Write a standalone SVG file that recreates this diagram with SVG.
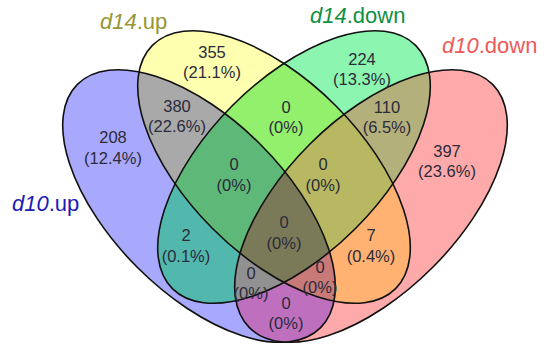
<svg xmlns="http://www.w3.org/2000/svg" xmlns:xlink="http://www.w3.org/1999/xlink" width="550" height="352" viewBox="0 0 550 352">
<style>
.num{font-family:"Liberation Sans",Arial,sans-serif;font-size:16.5px;fill:#2b2b3b;text-anchor:middle}
.ttl{font-family:"Liberation Sans",Arial,sans-serif;font-size:22px}
.out{fill:none;stroke:#111;stroke-width:1.6}
</style>
<defs>
<ellipse id="eA" cx="199" cy="206" rx="172" ry="87" transform="rotate(45 199 206)"/>
<ellipse id="eB" cx="274" cy="167" rx="172" ry="87" transform="rotate(45 274 167)"/>
<ellipse id="eC" cx="294" cy="167" rx="172" ry="87" transform="rotate(-45 294 167)"/>
<ellipse id="eD" cx="371" cy="206" rx="172" ry="87" transform="rotate(-45 371 206)"/>
<clipPath id="cA"><ellipse cx="199" cy="206" rx="172" ry="87" transform="rotate(45 199 206)"/></clipPath>
<clipPath id="cB"><ellipse cx="274" cy="167" rx="172" ry="87" transform="rotate(45 274 167)"/></clipPath>
<clipPath id="cC"><ellipse cx="294" cy="167" rx="172" ry="87" transform="rotate(-45 294 167)"/></clipPath>
<clipPath id="cD"><ellipse cx="371" cy="206" rx="172" ry="87" transform="rotate(-45 371 206)"/></clipPath>
</defs>
<rect width="550" height="352" fill="#fff"/>
<g id="regions">
<use xlink:href="#eA" fill="#a8a8fc"/>
<use xlink:href="#eB" fill="#ffffb0"/>
<use xlink:href="#eC" fill="#8cf5b0"/>
<use xlink:href="#eD" fill="#ffaaaa"/>
<use xlink:href="#eA" fill="#a9a9a9" clip-path="url(#cB)"/>
<use xlink:href="#eA" fill="#52b8ae" clip-path="url(#cC)"/>
<use xlink:href="#eA" fill="#be70be" clip-path="url(#cD)"/>
<use xlink:href="#eB" fill="#92f06c" clip-path="url(#cC)"/>
<use xlink:href="#eB" fill="#ffb272" clip-path="url(#cD)"/>
<use xlink:href="#eC" fill="#b4b07c" clip-path="url(#cD)"/>
<g clip-path="url(#cC)"><use xlink:href="#eA" fill="#5eb878" clip-path="url(#cB)"/></g>
<g clip-path="url(#cD)"><use xlink:href="#eA" fill="#c87a78" clip-path="url(#cB)"/></g>
<g clip-path="url(#cD)"><use xlink:href="#eA" fill="#919191" clip-path="url(#cC)"/></g>
<g clip-path="url(#cD)"><use xlink:href="#eB" fill="#b8b862" clip-path="url(#cC)"/></g>
<g clip-path="url(#cD)"><g clip-path="url(#cC)"><use xlink:href="#eA" fill="#7a7a58" clip-path="url(#cB)"/></g></g>
</g>
<g id="set-d10up"><use xlink:href="#eA" class="out"/><text class="ttl" x="12" y="211" fill="#1c1cb4"><tspan font-style="italic">d10</tspan>.up</text></g>
<g id="set-d14up"><use xlink:href="#eB" class="out"/><text class="ttl" x="100" y="29" fill="#969632"><tspan font-style="italic">d14</tspan>.up</text></g>
<g id="set-d14down"><use xlink:href="#eC" class="out"/><text class="ttl" x="310" y="23" fill="#109040"><tspan font-style="italic">d14</tspan>.down</text></g>
<g id="set-d10down"><use xlink:href="#eD" class="out"/><text class="ttl" x="442" y="53" fill="#ee5a5a"><tspan font-style="italic">d10</tspan>.down</text></g>
<g id="labels">
<text class="num" x="113" y="143">208<tspan x="113" dy="21">(12.4%)</tspan></text>
<text class="num" x="212" y="58">355<tspan x="212" dy="20">(21.1%)</tspan></text>
<text class="num" x="362" y="65">224<tspan x="362" dy="20">(13.3%)</tspan></text>
<text class="num" x="447" y="157">397<tspan x="447" dy="20">(23.6%)</tspan></text>
<text class="num" x="177" y="112">380<tspan x="177" dy="20">(22.6%)</tspan></text>
<text class="num" x="286" y="113">0<tspan x="286" dy="20">(0%)</tspan></text>
<text class="num" x="387" y="113">110<tspan x="387" dy="20">(6.5%)</tspan></text>
<text class="num" x="234" y="170">0<tspan x="234" dy="21">(0%)</tspan></text>
<text class="num" x="323" y="170">0<tspan x="323" dy="21">(0%)</tspan></text>
<text class="num" x="284" y="228">0<tspan x="284" dy="21">(0%)</tspan></text>
<text class="num" x="186" y="241">2<tspan x="186" dy="21">(0.1%)</tspan></text>
<text class="num" x="371" y="241">7<tspan x="371" dy="21">(0.4%)</tspan></text>
<text class="num" x="251" y="279">0<tspan x="251" dy="20">(0%)</tspan></text>
<text class="num" x="320" y="273">0<tspan x="320" dy="20">(0%)</tspan></text>
<text class="num" x="286" y="309">0<tspan x="286" dy="20">(0%)</tspan></text>
</g>
</svg>
